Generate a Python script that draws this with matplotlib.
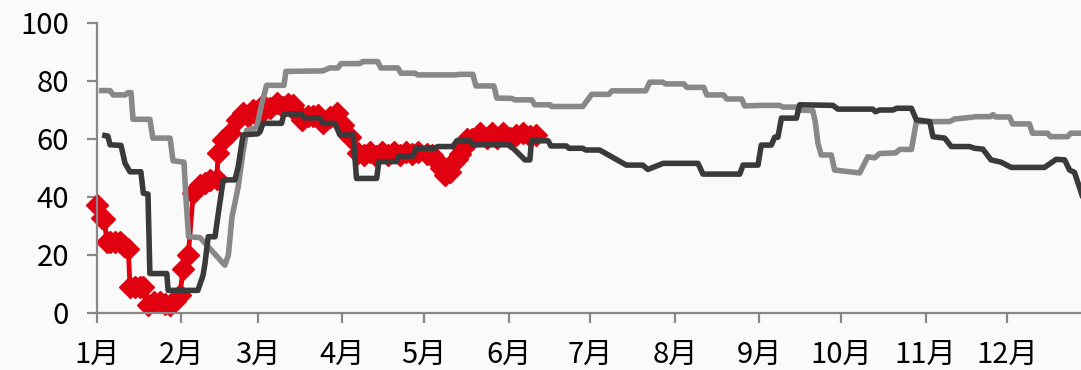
import numpy as np
import matplotlib
matplotlib.use('Agg')
import matplotlib.pyplot as plt

###############################################################################
# Data (day of year, value)
###############################################################################
months = ['1月', '2月', '3月', '4月', '5月', '6月',
          '7月', '8月', '9月', '10月', '11月', '12月']
monthStart = [0, 31, 59, 90, 120, 151, 181, 212, 243, 273, 304, 334]

lightDay = [
    1.7, 4.8, 5.9, 10.3, 11.4, 12.5, 13.2, 19.4, 20.5, 26.8, 27.9, 31.9,
    32.6, 33.6, 37.8, 46.9, 48.2, 49.5, 51.7, 53.5, 54.9, 58.6, 60.4, 62.2,
    68.6, 69.3, 82.9, 85.4, 88.4, 89.5, 96.4, 97.5, 103.0, 104.1, 110.4,
    111.5, 116.6, 117.7, 131.6, 133.1, 137.9, 139.0, 145.6, 146.7, 152.2,
    153.3, 159.5, 160.6, 166.1, 166.8, 178.2, 181.5, 187.8, 188.9, 201.3,
    202.8, 207.5, 208.6, 215.3, 216.4, 222.6, 223.7, 229.9, 231.0, 236.5,
    237.6, 244.2, 250.4, 251.6, 256.3, 257.4, 262.6, 263.5, 264.5, 265.7,
    269.4, 270.6, 279.8, 282.8, 285.3, 287.1, 293.0, 294.5, 298.8, 300.6,
    312.8, 314.6, 320.9, 322.3, 327.8, 328.7, 329.7, 334.8, 335.9, 342.1,
    343.2, 348.7, 349.8, 356.1, 357.2, 362.3
]
lightVal = [
    76.7, 76.7, 75.2, 75.2, 76.0, 76.0, 66.8, 66.8, 60.3, 60.3, 52.5, 52.0,
    40.0, 26.3, 26.0, 16.5, 20.0, 33.0, 43.0, 55.0, 63.0, 64.0, 72.0, 78.5,
    78.5, 83.3, 83.5, 84.5, 84.5, 86.0, 86.0, 86.7, 86.7, 84.5, 84.5,
    82.7, 82.7, 82.1, 82.1, 82.3, 82.3, 78.3, 78.3, 74.1, 74.0,
    73.5, 73.5, 71.8, 71.8, 71.2, 71.2, 75.4, 75.4, 76.6, 76.6,
    79.6, 79.6, 79.0, 79.0, 77.8, 77.8, 75.2, 75.2, 73.8, 73.8,
    71.4, 71.6, 71.6, 71.0, 71.0, 70.0, 69.8, 66.0, 58.5, 54.5,
    54.5, 49.3, 48.3, 53.9, 53.5, 55.0, 55.2, 56.4, 56.4, 66.0,
    66.0, 66.9, 67.5, 67.7, 67.7, 68.4, 67.6, 67.6, 65.2, 65.2,
    62.0, 62.0, 60.8, 60.8, 62.0, 62.0
]

darkDay = [
    2.9, 4.0, 4.8, 8.8, 10.3, 12.1, 16.1, 17.0, 18.7, 19.4, 25.6, 26.1,
    37.0, 38.9, 39.6, 40.8, 43.3, 44.5, 46.3, 50.6, 51.8, 53.6, 59.0, 59.8,
    60.9, 67.7, 68.6, 75.1, 75.9, 81.8, 82.9, 87.3, 89.1, 94.0, 95.2, 102.6,
    103.4, 109.9, 110.7, 116.0, 117.0, 123.9, 125.0, 130.5, 132.0, 136.8,
    137.9, 151.4, 157.0, 158.8, 159.4, 165.5, 166.5, 172.2, 173.1, 178.2,
    179.3, 184.4, 194.2, 200.2, 202.1, 207.7, 220.5, 222.3, 235.8, 237.0,
    242.5, 243.7, 247.4, 248.6, 249.8, 251.1, 256.6, 257.8, 270.0, 271.8,
    284.6, 285.6, 287.1, 292.0, 293.4, 298.8, 300.6, 305.5, 306.7, 311.0,
    313.4, 320.1, 322.0, 325.0, 328.0, 331.7, 335.4, 347.6, 351.9, 355.0,
    356.8, 358.6, 361.6
]
darkVal = [
    61.2, 61.0, 58.0, 57.8, 51.6, 48.7, 48.7, 41.3, 41.0, 13.6, 13.6, 7.8,
    7.8, 13.0, 17.0, 26.3, 26.3, 34.3, 45.9, 45.9, 50.4, 61.4, 61.8, 62.5,
    65.4, 65.4, 68.6, 68.6, 67.3, 67.3, 65.4, 65.4, 61.4, 61.4, 46.4, 46.4,
    52.2, 52.2, 54.1, 54.1, 56.8, 56.8, 57.4, 57.4, 59.4, 59.4,
    58.0, 58.0, 52.8, 52.8, 59.4, 59.4, 57.6, 57.6, 56.8, 56.8,
    56.2, 56.2, 51.0, 51.0, 49.5, 51.6, 51.6, 47.9, 47.9, 51.0,
    51.0, 57.9, 57.9, 60.6, 60.6, 67.2, 67.2, 71.8, 71.6, 70.3,
    70.3, 69.4, 70.0, 70.0, 70.6, 70.6, 66.6, 66.0, 60.8, 60.3,
    57.4, 57.4, 56.8, 56.5, 52.8, 52.0, 50.2, 50.2, 53.0, 52.8,
    49.3, 48.5, 40.0
]

redDay = [
    0.0, 1.7, 2.6, 3.7, 4.8, 6.6, 8.4, 9.9, 11.5, 12.1, 13.9, 15.8, 17.0,
    18.8, 20.9, 23.1, 24.9, 26.8, 28.6, 30.4, 31.6, 33.5, 35.3, 37.8, 39.6,
    41.4, 43.9, 44.5, 46.3, 48.8, 51.2, 53.6, 55.4, 57.3, 59.0, 61.0, 63.4,
    65.9, 68.2, 70.0, 72.0, 73.4, 75.1, 77.4, 79.2, 81.2, 83.0, 85.4, 87.9,
    90.2, 92.8, 95.8, 97.9, 100.1, 102.3, 104.5, 106.7, 108.9, 111.1, 113.3,
    115.5, 117.7, 120.9, 122.8, 124.5, 126.1, 127.6, 129.4, 130.7, 131.9,
    133.1, 134.3, 135.6, 137.5, 140.4, 143.0, 144.8, 146.7, 148.9, 151.4,
    153.6, 156.2, 158.8, 161.2
]
redVal = [
    37.2, 32.6, 32.5, 24.5, 24.5, 24.4, 24.4, 23.0, 22.2, 9.0, 9.0, 9.0, 9.0,
    2.7, 3.8, 3.8, 3.0, 2.7, 4.0, 6.1, 15.3, 20.0, 41.3, 44.1, 45.0,
    45.9, 46.2, 55.1, 59.7, 62.0, 66.6, 68.9, 68.0, 70.0, 68.0, 71.8, 70.6,
    72.4, 71.0, 72.0, 71.8, 69.0, 66.6, 68.0, 68.0, 68.3, 65.4, 67.5, 68.9,
    65.0, 60.8, 55.1, 54.5, 55.5, 54.3, 55.4, 54.5, 55.5, 54.6, 55.5,
    55.0, 55.6, 55.0, 54.5, 52.8, 50.0, 47.6, 48.6, 51.6, 53.0,
    55.0, 56.8, 60.0, 60.0, 62.0, 60.5, 62.0, 60.5, 62.0, 60.5,
    61.5, 62.0, 61.0, 61.5
]

###############################################################################
# Plot
###############################################################################
plt.rcParams['font.family'] = ['Noto Sans CJK SC', 'DejaVu Sans']
(W, H, DPI) = (1081, 370, 100)
BG = '#fafafa'
AX_CLR = '#888888'

fig = plt.figure(figsize=(W/DPI, H/DPI), dpi=DPI, facecolor=BG)
ax = fig.add_axes([97/W, (H-313)/H, (W-97)/W, 290/H], facecolor=BG)

ax.plot(redDay, redVal, color='#e00010', lw=3.5, marker='D', ms=11,
        mec='#e00010', mfc='#e00010', zorder=2, clip_on=False)
ax.plot(lightDay, lightVal, color='#888888', lw=4, zorder=3,
        solid_joinstyle='round')
ax.plot(darkDay, darkVal, color='#3a3a3a', lw=4, zorder=4,
        solid_joinstyle='round')

ax.set_xlim(0, 361)
ax.set_ylim(0, 100)
ax.set_xticks(monthStart)
ax.set_xticklabels(months)
ax.set_yticks(np.arange(0, 101, 20))

for side in ['top', 'right']:
    ax.spines[side].set_visible(False)
for side in ['left', 'bottom']:
    ax.spines[side].set_color(AX_CLR)
    ax.spines[side].set_linewidth(1.6)
ax.tick_params(axis='both', colors=AX_CLR, width=1.6, length=7,
               labelsize=21, labelcolor='black')
ax.tick_params(axis='y', pad=13)
ax.tick_params(axis='x', pad=12)

fig.savefig('out.png', dpi=DPI, facecolor=BG)
plt.close('all')
